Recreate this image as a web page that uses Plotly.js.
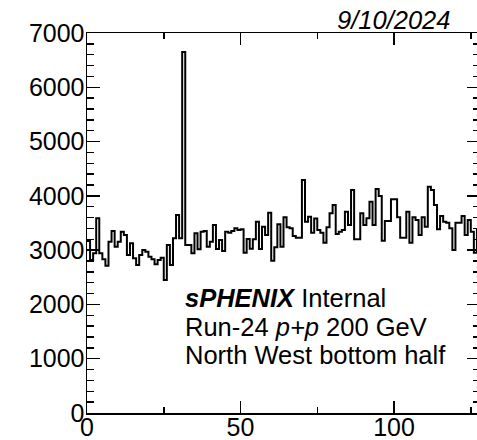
<!DOCTYPE html>
<html>
<head>
<meta charset="utf-8">
<script src="https://cdn.plot.ly/plotly-3.0.1.min.js"></script>
<style>
  html, body { margin: 0; padding: 0; background: #fff; overflow: hidden; }
  #chart { width: 480px; height: 440px; }
</style>
</head>
<body>
<div id="chart"></div>
<script>
// ---- data (bin contents, 128 bins from 0 to 128) ----
const binCounts = [
  3168, 2818, 2941, 3586, 2941, 2830, 2714, 3156, 3352, 3064,
  3156, 3340, 3279, 2910, 3126, 2849, 2726, 2910, 3002, 2970,
  2880, 2830, 2738, 2818, 2861, 2450, 3095, 2726, 3217, 3647,
  3217, 6650, 3095, 3095, 2941, 3310, 3015, 3340, 3352, 3064,
  3156, 3463, 3021, 3187, 2984, 3340, 3321, 3352, 3401, 3370,
  3383, 2953, 3205, 3027, 3199, 3524, 3021, 3432, 3279, 3690,
  2806, 3052, 3475, 3064, 3604, 3420, 3401, 3260, 3230, 3230,
  4290, 3524, 3616, 3321, 3585, 3370, 3321, 3137, 3420, 3678,
  3831, 3297, 3340, 3370, 3708, 3463, 4108, 3199, 3199, 3678,
  3463, 3586, 3893, 3463, 4126, 3997, 3174, 3537, 3537, 3936,
  3936, 3604, 3230, 3230, 3708, 3137, 3604, 3555, 3279, 3604,
  3432, 4169, 4108, 3831, 3383, 3629, 3524, 3506, 3401, 3002,
  3506, 3506, 3629, 3279, 3555, 3340, 2953, 3370
];
const xMin = 0;
const xMax = 128;
const xTickVals = [0, 50, 100];
const yTickVals = [0, 1000, 2000, 3000, 4000, 5000, 6000, 7000];
const dateText = "9/10/2024";
const labelLines = [
  "<b><i>sPHENIX</i></b> Internal",
  "Run-24 <i>p+p</i> 200 GeV",
  "North West bottom half"
];

// ---- build step outline from bin edges ----
const binWidth = (xMax - xMin) / binCounts.length;
const edgesX = binCounts.map((_, i) => xMin + i * binWidth).concat([xMax]);
const edgesY = binCounts.concat([binCounts[binCounts.length - 1]]);

const W = 480, H = 440;
const M = { l: 87, r: 0, t: 33, b: 27 };
const plotW = W - M.l - M.r, plotH = H - M.t - M.b;
const px2x = px => (px - M.l) / plotW;
const px2y = py => (H - M.b - py) / plotH;

const font = "Liberation Sans, Arial, Helvetica, sans-serif";

const trace = {
  type: "scatter",
  mode: "lines",
  x: edgesX,
  y: edgesY,
  line: { shape: "hv", color: "#000", width: 2 },
  hoverinfo: "skip"
};

const axisCommon = {
  showline: true, linecolor: "#000", linewidth: 1.5,
  mirror: "ticks", ticks: "inside", tickcolor: "#000", tickwidth: 1.5,
  showgrid: false, zeroline: false,
  tickfont: { family: font, size: 25, color: "#000" }
};

const layout = {
  width: W, height: H,
  margin: M,
  paper_bgcolor: "#fff", plot_bgcolor: "#fff",
  showlegend: false,
  xaxis: Object.assign({}, axisCommon, {
    range: [xMin, xMax], tickmode: "array", tickvals: xTickVals,
    ticklen: 12, ticklabelstandoff: -9,
    minor: { dtick: 25, ticks: "inside", ticklen: 6, tickcolor: "#000", tickwidth: 1.5, showgrid: false }
  }),
  yaxis: Object.assign({}, axisCommon, {
    range: [0, 7000], tickmode: "array", tickvals: yTickVals,
    ticklen: 13, ticklabelstandoff: -4,
    minor: { dtick: 200, ticks: "inside", ticklen: 7, tickcolor: "#000", tickwidth: 1.5, showgrid: false }
  }),
  annotations: [
    { xref: "paper", yref: "paper", x: px2x(452), y: px2y(20), xanchor: "right", yanchor: "middle",
      text: "<i>" + dateText + "</i>", showarrow: false,
      font: { family: font, size: 25.5, color: "#000" } },
    { xref: "paper", yref: "paper", x: px2x(183), y: px2y(298), xanchor: "left", yanchor: "middle",
      text: labelLines[0], showarrow: false, font: { family: font, size: 25.5, color: "#000" } },
    { xref: "paper", yref: "paper", x: px2x(183), y: px2y(327), xanchor: "left", yanchor: "middle",
      text: labelLines[1], showarrow: false, font: { family: font, size: 25.5, color: "#000" } },
    { xref: "paper", yref: "paper", x: px2x(183), y: px2y(355), xanchor: "left", yanchor: "middle",
      text: labelLines[2], showarrow: false, font: { family: font, size: 25.5, color: "#000" } }
  ]
};

Plotly.newPlot("chart", [trace], layout, { staticPlot: true, displayModeBar: false });
</script>
</body>
</html>
